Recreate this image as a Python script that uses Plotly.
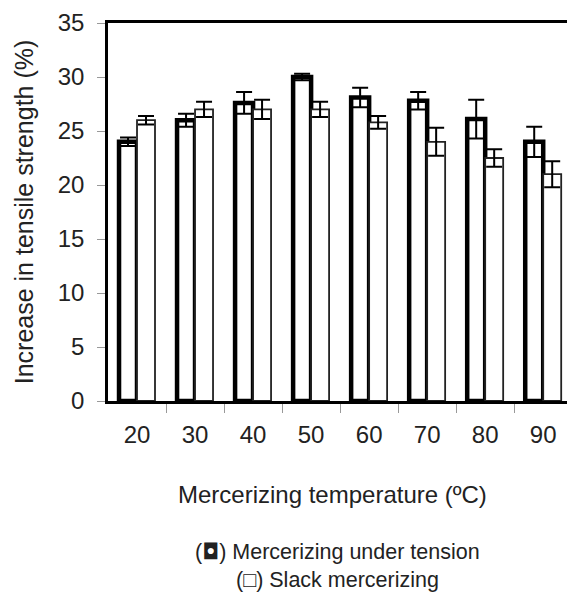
import plotly.graph_objects as go

temperatures = [20, 30, 40, 50, 60, 70, 80, 90]
tension_values = [24.0, 26.0, 27.6, 30.0, 28.1, 27.8, 26.1, 24.0]
tension_errors = [0.4, 0.6, 1.0, 0.3, 0.9, 0.8, 1.8, 1.4]
slack_values = [26.0, 27.0, 27.0, 27.0, 25.8, 24.0, 22.5, 21.0]
slack_errors = [0.4, 0.7, 0.9, 0.7, 0.6, 1.3, 0.8, 1.2]
y_ticks = [0, 5, 10, 15, 20, 25, 30, 35]
boundary_ticks = [25, 35, 45, 55, 65, 75, 85]

FONT = "Arial, Liberation Sans, sans-serif"

fig = go.Figure()
fig.add_trace(go.Bar(
    x=temperatures, y=tension_values, name="Mercerizing under tension",
    marker=dict(color="white", line=dict(color="black", width=4.5)),
    error_y=dict(type="data", array=tension_errors, visible=True,
                 color="black", thickness=2, width=8),
))
fig.add_trace(go.Bar(
    x=temperatures, y=slack_values, name="Slack mercerizing",
    marker=dict(color="white", line=dict(color="#222", width=1.8)),
    error_y=dict(type="data", array=slack_errors, visible=True,
                 color="black", thickness=2, width=8),
))

fig.update_layout(
    width=567, height=595,
    margin=dict(l=108, r=0, t=23, b=194),
    paper_bgcolor="white", plot_bgcolor="white",
    barmode="group", bargap=0.38, bargroupgap=0,
    showlegend=False,
    font=dict(family=FONT, color="#222"),
)
fig.update_xaxes(
    range=[15, 94.1], tickmode="array", tickvals=temperatures,
    ticktext=[str(t) for t in temperatures], ticks="",
    tickfont=dict(size=24, color="#222"), ticklabelstandoff=10,
    showline=True, linecolor="black", linewidth=2.5, mirror=True,
    showgrid=False, zeroline=False,
    minor=dict(tickmode="array", tickvals=boundary_ticks, ticks="outside",
               ticklen=9, tickcolor="#999", tickwidth=1, showgrid=False),
)
fig.update_yaxes(
    range=[0, 35], tickmode="array", tickvals=y_ticks,
    ticks="outside", ticklen=8, tickcolor="#999", tickwidth=1.2,
    tickfont=dict(size=24, color="#222"), ticklabelstandoff=8,
    showline=True, linecolor="black", linewidth=2.5,
    showgrid=False, zeroline=False,
    title=dict(text="Increase in tensile strength (%)",
               font=dict(size=25, color="#222"), standoff=17),
)

fig.add_annotation(text="Mercerizing temperature (ºC)", xref="paper", yref="paper",
                   x=0.49, y=-0.247, showarrow=False, xanchor="center", yanchor="middle",
                   font=dict(size=24, color="#222", family=FONT))
fig.add_annotation(text="(<span style='font-family:DejaVu Sans'>◘</span>) Mercerizing under tension",
                   xref="paper", yref="paper",
                   x=0.5, y=-0.397, showarrow=False, xanchor="center", yanchor="middle",
                   font=dict(size=21.5, color="#222", family=FONT))
fig.add_annotation(text="(□) Slack mercerizing", xref="paper", yref="paper",
                   x=0.5, y=-0.474, showarrow=False, xanchor="center", yanchor="middle",
                   font=dict(size=21.5, color="#222", family=FONT))

fig.write_html("out.html")
